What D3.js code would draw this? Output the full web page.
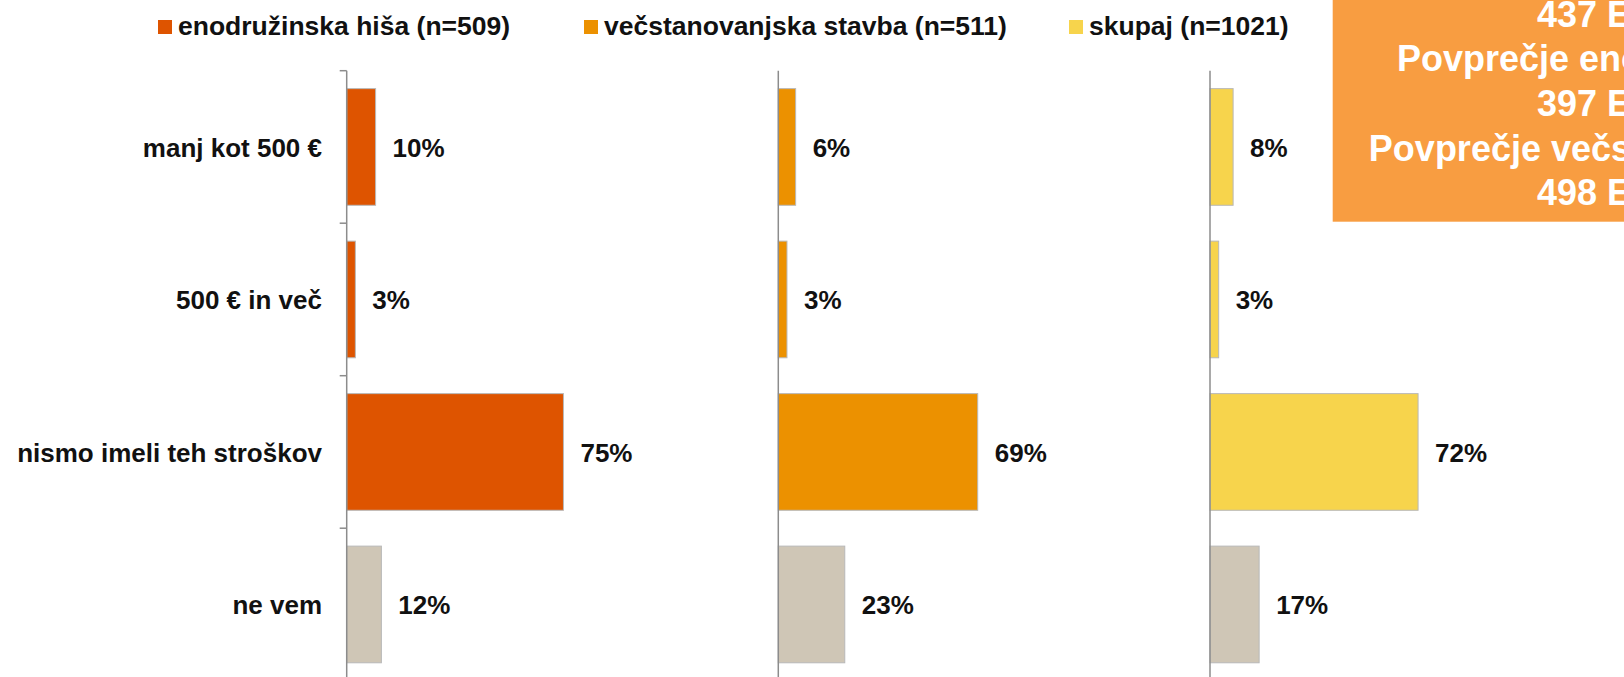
<!DOCTYPE html>
<html>
<head>
<meta charset="utf-8">
<script src="https://cdn.jsdelivr.net/npm/d3@7"></script>
<style>
  body { margin: 0; background: #fff; }
  svg { display: block; font-family: "Liberation Sans", Arial, sans-serif; }
</style>
</head>
<body>
<div id="chart"></div>
<script>
// data
var categories = ["manj kot 500 €", "500 € in več", "nismo imeli teh stroškov", "ne vem"];
var seriesNames = ["enodružinska hiša (n=509)", "večstanovanjska stavba (n=511)", "skupaj (n=1021)"];
var enodruzinska = [10, 3, 75, 12];
var vecstanovanjska = [6, 3, 69, 23];
var skupaj = [8, 3, 72, 17];
var noteLines = ["437 EUR", "Povprečje enodružinska:", "397 EUR", "Povprečje večstanovanjska:", "498 EUR"];

var seriesColors = ["#de5400", "#ec9100", "#f7d44c"];
var dontKnowColor = "#cfc6b6";

var svgWidth = 1624;
var svgHeight = 677;

var svg = d3.select("#chart")
    .append("svg")
    .attr("width", svgWidth)
    .attr("height", svgHeight);

// shared category scale
var yScale = d3.scaleBand()
    .domain(categories)
    .range([70.7, 680.7])
    .paddingInner(0.235)
    .paddingOuter(0.1175);

var step = yScale.step();
var panelX = [346.7, 778.3, 1210];
var allSeries = [enodruzinska, vecstanovanjska, skupaj];

allSeries.forEach(function(values, i) {
    var xScale = d3.scaleLinear().domain([0, 100]).range([0, 289]);
    var g = svg.append("g").attr("transform", `translate(${panelX[i]}, 0)`);

    var rows = values.map(function(v, j) { return { cat: categories[j], value: v }; });

    g.selectAll("rect")
        .data(rows)
        .enter()
        .append("rect")
        .attr("x", 0)
        .attr("y", d => yScale(d.cat))
        .attr("width", d => xScale(d.value))
        .attr("height", yScale.bandwidth())
        .attr("fill", d => d.cat === "ne vem" ? dontKnowColor : seriesColors[i])
        .attr("stroke", "#b8b8b8")
        .attr("stroke-width", 1);

    g.selectAll("text.val")
        .data(rows)
        .enter()
        .append("text")
        .attr("class", "val")
        .attr("x", d => xScale(d.value) + 17)
        .attr("y", d => yScale(d.cat) + yScale.bandwidth() / 2 + 10)
        .attr("font-size", "26px")
        .attr("font-weight", "bold")
        .attr("fill", "#111")
        .text(d => d.value + "%");

    // axis line
    g.append("line")
        .attr("x1", 0).attr("x2", 0)
        .attr("y1", 70.7).attr("y2", 690)
        .attr("stroke", "#8c8c8c")
        .attr("stroke-width", 1.5);

    if (i === 0) {
        var tickYs = d3.range(categories.length + 1).map(k => 70.7 + k * step);
        g.selectAll("line.tick")
            .data(tickYs)
            .enter()
            .append("line")
            .attr("class", "tick")
            .attr("x1", -7).attr("x2", 0)
            .attr("y1", d => d).attr("y2", d => d)
            .attr("stroke", "#8c8c8c")
            .attr("stroke-width", 1.5);

        svg.append("g")
            .selectAll("text")
            .data(categories)
            .enter()
            .append("text")
            .attr("x", 322)
            .attr("y", d => yScale(d) + yScale.bandwidth() / 2 + 10)
            .attr("text-anchor", "end")
            .attr("font-size", "26px")
            .attr("font-weight", "bold")
            .attr("fill", "#111")
            .text(d => d);
    }
});

// legend
var legendX = [158, 584, 1069];
var legend = svg.append("g");
seriesNames.forEach(function(name, i) {
    legend.append("rect")
        .attr("x", legendX[i])
        .attr("y", 20)
        .attr("width", 14)
        .attr("height", 14)
        .attr("fill", seriesColors[i]);
    legend.append("text")
        .attr("x", legendX[i] + 20)
        .attr("y", 35)
        .attr("font-size", "26.5px")
        .attr("font-weight", "bold")
        .attr("fill", "#111")
        .text(name);
});

// orange note box (cut off at right and top)
svg.append("rect")
    .attr("x", 1332.7)
    .attr("y", -10)
    .attr("width", 400)
    .attr("height", 231.7)
    .attr("fill", "#f89d41");

svg.append("g")
    .selectAll("text")
    .data(noteLines)
    .enter()
    .append("text")
    .attr("x", 1610)
    .attr("y", (d, i) => 26.7 + i * 44.65)
    .attr("text-anchor", "middle")
    .attr("font-size", "36px")
    .attr("font-weight", "bold")
    .attr("fill", "#fff")
    .text(d => d);
</script>
</body>
</html>
